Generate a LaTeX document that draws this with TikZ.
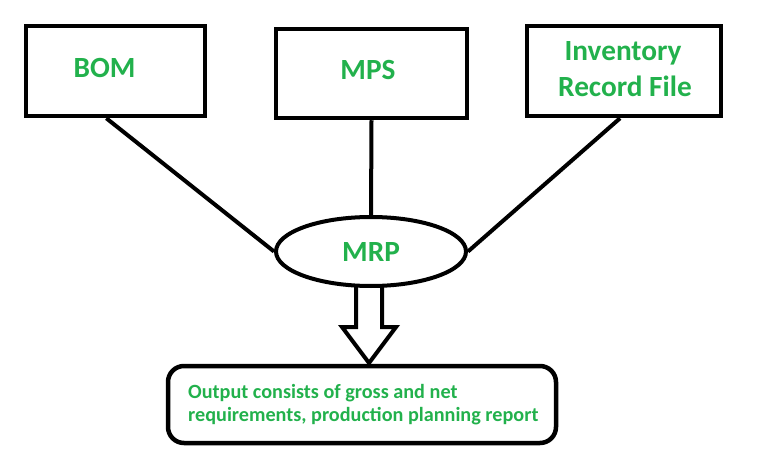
\documentclass[tikz,border=0pt]{standalone}
\usepackage{fontspec}
\setmainfont{Carlito}
\usetikzlibrary{shapes.geometric,calc}
\definecolor{pgreen}{HTML}{22B14C}
\begin{document}
\begin{tikzpicture}[x=1pt,y=-1pt,
  boxst/.style={draw=black,line width=4.5pt,rectangle,inner sep=0pt},
  bigtext/.style={text=pgreen,font=\fontsize{29.3}{36}\selectfont\bfseries,inner sep=0pt,anchor=base},
  conn/.style={draw=black,line width=4pt},
]
\useasboundingbox (0,0) rectangle (762,473);
% boxes
\node[boxst,minimum width=179pt,minimum height=90pt] (bom) at (115.5,71) {};
\node[boxst,minimum width=191pt,minimum height=89pt] (mps) at (371.5,73.5) {};
\node[boxst,minimum width=194pt,minimum height=90pt] (inv) at (624,71) {};
\node[bigtext] (bomt) at (104.5,77.3) {BOM};
\node[bigtext] (mpst) at (368,79.3) {MPS};
\node[bigtext] (invt1) at (623,60.7) {Inventory};
\node[bigtext] (invt2) at (625,96.7) {Record File};
% ellipse
\node[draw=black,line width=4pt,ellipse,minimum width=190pt,minimum height=69pt,inner sep=0pt] (mrp) at (371,251.5) {};
\node[bigtext] (mrpt) at (371,261.7) {MRP};
% output box
\node[draw=black,line width=4.5pt,rectangle,rounded corners=16pt,minimum width=388pt,minimum height=77pt,inner sep=0pt] (out) at (362,404.5) {};
\node[text=pgreen,font=\fontsize{20.2}{23.5}\selectfont\bfseries,inner sep=0pt,anchor=base west,align=left] (outt) at (188,421.7) {Output consists of gross and net\\requirements, production planning report};
% connectors
\coordinate (bomc) at ($(bom.south west)!0.45!(bom.south east)$);
\coordinate (invc) at ($(inv.south west)!0.48!(inv.south east)$);
\draw[conn] (bomc) -- (mrp.west);
\draw[conn] (mps.south) -- (mrp.north);
\draw[conn] (invc) -- (mrp.east);
% block arrow
\coordinate (a1) at (356,285.5);
\coordinate (a2) at (356,327);
\coordinate (a3) at (342,327);
\coordinate (tip) at (369,363);
\coordinate (a5) at (396,327);
\coordinate (a6) at (382,327);
\coordinate (a7) at (382,285.5);
\draw[conn,line join=miter] (a1) -- (a2) -- (a3) -- (tip) -- (a5) -- (a6) -- (a7);
\end{tikzpicture}
\end{document}
